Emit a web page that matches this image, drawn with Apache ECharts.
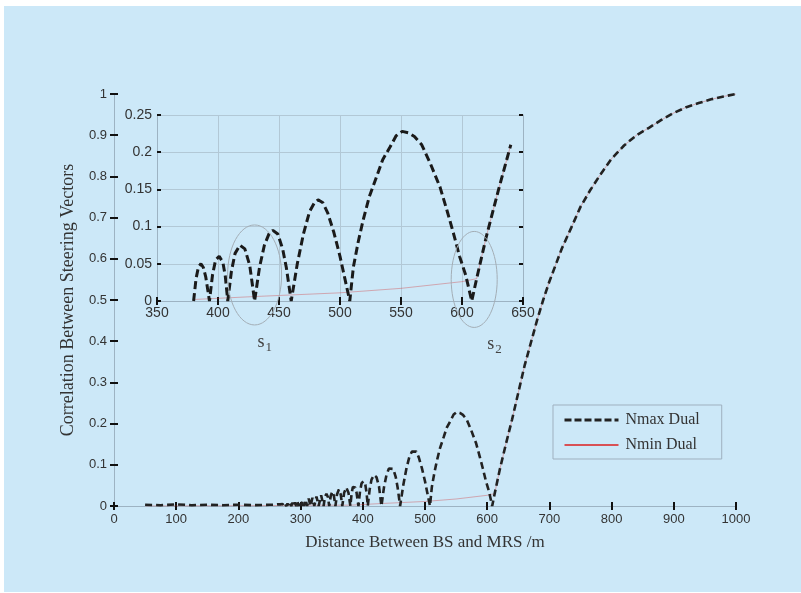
<!DOCTYPE html>
<html><head><meta charset="utf-8">
<script src="https://cdn.jsdelivr.net/npm/echarts@6/dist/echarts.min.js"></script>
<style>
html,body{margin:0;padding:0;background:#fff;}
#wrap{position:relative;width:801px;height:593px;}
#bg{position:absolute;left:4px;top:6px;width:797px;height:586px;background:#cce8f8;}
#c{position:absolute;left:0;top:0;width:801px;height:593px;}
</style>
</head><body><div id="wrap"><div id="bg"></div><div id="c"></div></div>
<script>
// ---- tick labels ----
const mainXTicks = [0,100,200,300,400,500,600,700,800,900,1000];
const mainYTicks = [0,0.1,0.2,0.3,0.4,0.5,0.6,0.7,0.8,0.9,1];
const insetXTicks = [350,400,450,500,550,600,650];
const insetYTicks = [0,0.05,0.1,0.15,0.2,0.25];
const insetRange = [380, 640];

// ---- Nmax Dual, oscillating part (distance in m, correlation) ----
const nmaxDistance = [
  50,75,100,125,150,175,200,225,250,
  253,255,257,259,261,263,265,267,269,271,273,275,277,279,281,283,285,287,289,291,293,295,297,299,301,
  303,305.5,308,310.5,313,316,319,322,325.5,329,333,337,
  339,341.5,344,346,348.5,351,353.5,356,358.5,361.5,364.5,367,370,373.5,377,
  380,382,384,386,388,390,393,
  395.5,398,401,404,406,408,
  411,414,418,422,426,430,
  434,438,442,445,449,453,456,460,
  465,470,475,479,482,486,490,495,500,504,508,
  511,515,519,524,530,535,541,546,551,556,561,567,574,582,588,593,598,603,608
];
const nmaxCorr = [
  0.003,0.002,0.004,0.002,0.003,0.002,0.003,0.002,0.003,
  0,0.003,0,0.003,0,0.004,0,0.004,0,0.005,0,0.005,0,0.006,0,0.007,0,0.008,0,0.009,0,0.010,0,0.011,0,
  0.013,0,0.015,0,0.018,0,0.020,0,0.023,0,0.026,0,
  0.021,0.030,0.021,0,0.025,0.035,0.025,0,0.028,0.040,0.028,0,0.032,0.045,0.032,
  0,0.03,0.046,0.05,0.045,0.032,0,
  0.035,0.055,0.06,0.052,0.033,0,
  0.04,0.064,0.075,0.07,0.048,0,
  0.045,0.075,0.091,0.095,0.09,0.07,0.045,0,
  0.05,0.09,0.12,0.132,0.136,0.132,0.118,0.092,0.06,0.03,0,
  0.046,0.08,0.109,0.14,0.167,0.19,0.207,0.222,0.228,0.226,0.221,0.21,0.185,0.153,0.12,0.091,0.06,0.035,0
];

// ---- Nmin Dual, low part ----
const nminDistance = [50,250,300,380,430,500,550,600];
const nminCorr = [0,0.001,0.002,0.002,0.006,0.011,0.017,0.026];

// ---- common rising part (both curves) ----
const riseDistance = [612,620,630,640,650,660,670,680,690,700,710,720,735,750,765,780,800,820,840,860,880,900,920,940,960,980,1000];
const riseCorr = [0.03,0.087,0.15,0.21,0.275,0.34,0.395,0.45,0.5,0.545,0.585,0.625,0.675,0.726,0.765,0.8,0.843,0.875,0.9,0.918,0.937,0.954,0.968,0.978,0.987,0.994,1.0];

// ---- annotations (data coords) ----
const markers = [
  {label:'1', x:430, y:0.035},
  {label:'2', x:610, y:0.029}
];

const zip = (xs, ys) => xs.map((x,i)=>[x, ys[i]]);
const inInset = p => p[0] >= insetRange[0] && p[0] <= insetRange[1];
const riseData = zip(riseDistance, riseCorr);
const nmaxData = zip(nmaxDistance, nmaxCorr).concat(riseData);
const nminData = zip(nminDistance, nminCorr).concat(riseData);

const AXIS_GRAY = '#9db3c3';
const LABEL_FONT = 'Liberation Sans, Arial, sans-serif';
const SERIF = 'Liberation Serif, Times New Roman, serif';
const fmt = v => String(+v.toFixed(2));

function axis(ticks, opts) {
  return Object.assign({
    type:'value',
    min: ticks[0], max: ticks[ticks.length-1],
    interval: +(ticks[1]-ticks[0]).toFixed(6),
    axisLine:{show:true, lineStyle:{color:AXIS_GRAY, width:1}},
    axisTick:{show:true, inside:true, length:4, lineStyle:{color:'#111', width:2}},
    splitLine:{show:false},
    axisLabel:{show:true, color:'#333', fontFamily:LABEL_FONT, fontSize:13, margin:7, formatter:fmt},
  }, opts);
}

const chart = echarts.init(document.getElementById('c'), null, {renderer:'canvas'});

const option = {
  animation:false,
  backgroundColor:'transparent',
  grid:[
    {left:114, right:65, top:94, bottom:87, containLabel:false},
    {left:157, right:278, top:115, bottom:292, containLabel:false}
  ],
  xAxis:[
    axis(mainXTicks, {gridIndex:0, position:'bottom',
      name:'Distance Between BS and MRS /m', nameLocation:'middle', nameGap:28,
      nameTextStyle:{fontFamily:SERIF, fontSize:17, color:'#333'}}),
    axis(mainXTicks, {gridIndex:0, position:'top', axisLabel:{show:false}}),
    axis(insetXTicks, {gridIndex:1, position:'bottom',
      axisLabel:{show:true, color:'#333', fontFamily:LABEL_FONT, fontSize:14, margin:5, formatter:fmt},
      splitLine:{show:true, lineStyle:{color:'#b2c8d6', width:1}}}),
    axis(insetXTicks, {gridIndex:1, position:'top', axisLabel:{show:false}})
  ],
  yAxis:[
    axis(mainYTicks, {gridIndex:0, position:'left',
      name:'Correlation Between Steering Vectors', nameLocation:'middle', nameGap:37,
      nameTextStyle:{fontFamily:SERIF, fontSize:18, color:'#333'}}),
    axis(mainYTicks, {gridIndex:0, position:'right', axisLabel:{show:false}}),
    axis(insetYTicks, {gridIndex:1, position:'left',
      axisLabel:{show:true, color:'#333', fontFamily:LABEL_FONT, fontSize:14, margin:5, formatter:fmt},
      splitLine:{show:true, lineStyle:{color:'#b2c8d6', width:1}}}),
    axis(insetYTicks, {gridIndex:1, position:'right', axisLabel:{show:false}})
  ],
  legend:{
    orient:'vertical', left:553, top:405,
    padding:[7,22,6,10], itemWidth:54, itemHeight:14, itemGap:9,
    borderColor:'#9fb0bf', borderWidth:1, backgroundColor:'transparent',
    textStyle:{fontFamily:SERIF, fontSize:16, color:'#333', padding:[0,0,0,2]},
    data:[
      {name:'Nmax Dual', itemStyle:{opacity:0}, lineStyle:{color:'#222', width:3, type:[7,3], opacity:1}},
      {name:'Nmin Dual', itemStyle:{opacity:0}, lineStyle:{color:'#dd1f1f', width:1.5, opacity:1}}
    ]
  },
  series:[
    {name:'Nmin Dual', type:'line', xAxisIndex:0, yAxisIndex:0, data:nminData,
     symbol:'none', z:2, lineStyle:{color:'#d42a2a', width:1, opacity:0.35}, itemStyle:{color:'#d42a2a'}},
    {name:'Nmax Dual', type:'line', xAxisIndex:0, yAxisIndex:0, data:nmaxData,
     symbol:'none', z:3, lineStyle:{color:'#222', width:2.6, type:[7,4]}, itemStyle:{color:'#222'}},
    {name:'Nmin Dual', type:'line', xAxisIndex:2, yAxisIndex:2, data:nminData.filter(inInset),
     symbol:'none', z:2, lineStyle:{color:'#d42a2a', width:1, opacity:0.35}, itemStyle:{color:'#d42a2a'}},
    {name:'Nmax Dual', type:'line', xAxisIndex:2, yAxisIndex:2, data:nmaxData.filter(inInset),
     symbol:'none', z:3, lineStyle:{color:'#1a1a1a', width:3, type:[8,4]}, itemStyle:{color:'#1a1a1a'}}
  ]
};
chart.setOption(option);

const g = [];
markers.forEach(m => {
  const p = chart.convertToPixel({gridIndex:1}, [m.x, m.y]);
  const rx = m.label === '1' ? 27 : 23;
  const ry = m.label === '1' ? 50 : 48;
  g.push({type:'ellipse', shape:{cx:p[0], cy:p[1], rx:rx, ry:ry},
          style:{fill:'none', stroke:'#a3adb5', lineWidth:1}, z:5});
  const tx = m.label === '1' ? p[0]+3 : p[0]+13;
  const ty = p[1] + ry + 8;
  g.push({type:'text', x:tx, y:ty, style:{text:'s', font:'18px ' + SERIF, fill:'#444'}, z:5});
  g.push({type:'text', x:tx+8, y:ty+8, style:{text:m.label, font:'13px ' + SERIF, fill:'#444'}, z:5});
});
chart.setOption({graphic:g});
</script>
</body></html>
